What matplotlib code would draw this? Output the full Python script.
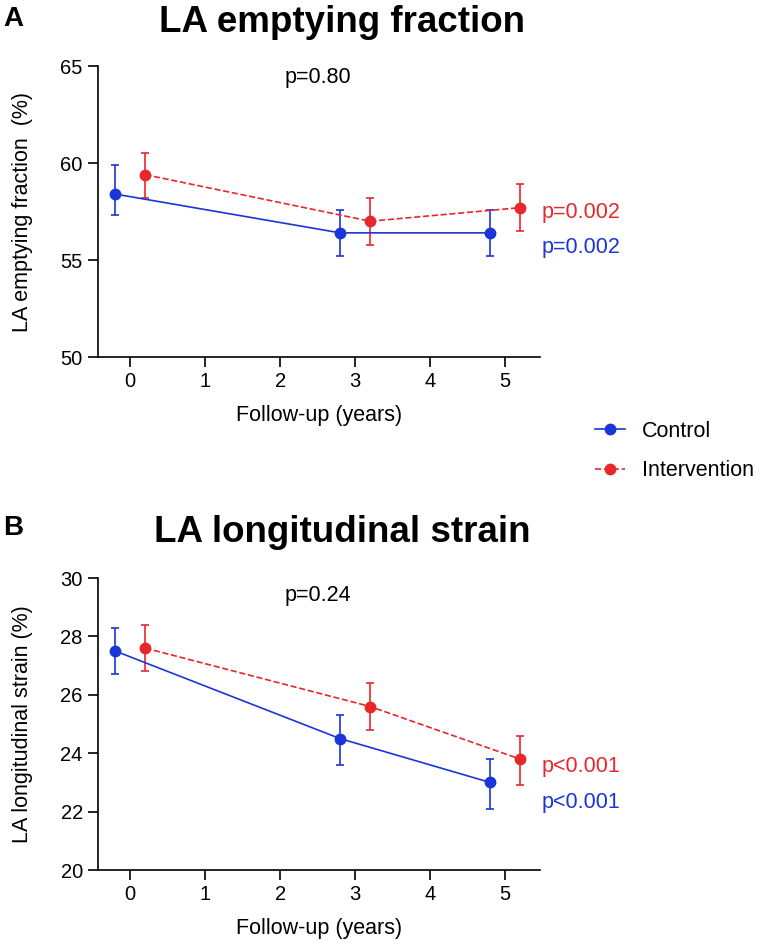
import matplotlib
matplotlib.use("Agg")
import matplotlib.pyplot as plt
from matplotlib.lines import Line2D

plt.rcParams['font.family'] = ['Liberation Sans', 'DejaVu Sans']

# follow-up time points (years), groups offset a little around the visit
years = [0, 3, 5]
x_control = [-0.2, 2.8, 4.8]
x_interv = [0.2, 3.2, 5.2]

# panel A: LA emptying fraction (%)
ef_control = [58.4, 56.4, 56.4]
ef_control_lo = [57.3, 55.2, 55.2]
ef_control_hi = [59.9, 57.6, 57.6]
ef_interv = [59.4, 57.0, 57.7]
ef_interv_lo = [58.2, 55.8, 56.5]
ef_interv_hi = [60.5, 58.2, 58.9]

# panel B: LA longitudinal strain (%)
ls_control = [27.5, 24.5, 23.0]
ls_control_lo = [26.7, 23.6, 22.1]
ls_control_hi = [28.3, 25.3, 23.8]
ls_interv = [27.6, 25.6, 23.8]
ls_interv_lo = [26.8, 24.8, 22.9]
ls_interv_hi = [28.4, 26.4, 24.6]

BLUE = '#1a35d9'
RED = '#e8272c'
FS = 15.5


def draw_panel(ax, ctl, ctl_lo, ctl_hi, itv, itv_lo, itv_hi):
    ctl_err = [[m - lo for m, lo in zip(ctl, ctl_lo)], [hi - m for m, hi in zip(ctl, ctl_hi)]]
    itv_err = [[m - lo for m, lo in zip(itv, itv_lo)], [hi - m for m, hi in zip(itv, itv_hi)]]
    ax.errorbar(x_control, ctl, yerr=ctl_err, color=BLUE, marker='o', ms=7.5,
                lw=1.2, capsize=3, elinewidth=1.2, capthick=1.2)
    ax.errorbar(x_interv, itv, yerr=itv_err, color=RED, marker='o', ms=7.5,
                lw=1.2, ls='--', capsize=3, elinewidth=1.2, capthick=1.2)
    ax.spines['top'].set_visible(False)
    ax.spines['right'].set_visible(False)
    ax.spines['left'].set_linewidth(1.2)
    ax.spines['bottom'].set_linewidth(1.2)
    ax.set_xlim(-0.43, 5.47)
    ax.set_xticks(range(6))
    ax.tick_params(labelsize=14.5, width=1.2, length=7, pad=4)
    ax.set_xlabel('Follow-up (years)', fontsize=FS)
    ax.xaxis.set_label_coords(0.5, -0.2)
    ax.xaxis.label.set_va('center')
    ax.yaxis.set_label_coords(-0.17, 0.5)
    ax.yaxis.label.set_va('center')


fig = plt.figure(figsize=(7.6, 9.49), dpi=100)

axA = fig.add_axes([0.129, 0.6238, 0.582, 0.3066])
draw_panel(axA, ef_control, ef_control_lo, ef_control_hi, ef_interv, ef_interv_lo, ef_interv_hi)
axA.set_ylim(50, 65)
axA.set_yticks([50, 55, 60, 65])
axA.set_ylabel('LA emptying fraction  (%)', fontsize=FS)
axA.text(2.5, 64.4, 'p=0.80', fontsize=FS, ha='center', va='center')
axA.text(5.49, 57.47, 'p=0.002', fontsize=FS, color=RED, va='center', clip_on=False)
axA.text(5.49, 55.67, 'p=0.002', fontsize=FS, color=BLUE, va='center', clip_on=False)

axB = fig.add_axes([0.129, 0.0832, 0.582, 0.3077])
draw_panel(axB, ls_control, ls_control_lo, ls_control_hi, ls_interv, ls_interv_lo, ls_interv_hi)
axB.set_ylim(20, 30)
axB.set_yticks([20, 22, 24, 26, 28, 30])
axB.set_ylabel('LA longitudinal strain (%)', fontsize=FS)
axB.text(2.5, 29.4, 'p=0.24', fontsize=FS, ha='center', va='center')
axB.text(5.49, 23.53, 'p<0.001', fontsize=FS, color=RED, va='center', clip_on=False)
axB.text(5.49, 22.33, 'p<0.001', fontsize=FS, color=BLUE, va='center', clip_on=False)

# titles and panel letters
fig.text(0.45, 1 - 23 / 949, 'LA emptying fraction', fontsize=26.5, fontweight='bold',
         ha='center', va='center')
fig.text(0.45, 1 - 532 / 949, 'LA longitudinal strain', fontsize=26.5, fontweight='bold',
         ha='center', va='center')
fig.text(0.004, 1 - 19 / 949, 'A', fontsize=20, fontweight='bold', va='center')
fig.text(0.004, 1 - 528 / 949, 'B', fontsize=20, fontweight='bold', va='center')

handles = [Line2D([], [], color=BLUE, marker='o', ms=7.5, lw=1.2),
           Line2D([], [], color=RED, marker='o', ms=7.5, lw=1.2, ls='--')]
fig.legend(handles, ['Control', 'Intervention'], loc='upper left',
           bbox_to_anchor=(595 / 760, 1 - 421 / 949), borderpad=0, borderaxespad=0,
           frameon=False, fontsize=FS, handlelength=1.4, handletextpad=0.8,
           labelspacing=0.85)

fig.savefig('out.png', dpi=100)
